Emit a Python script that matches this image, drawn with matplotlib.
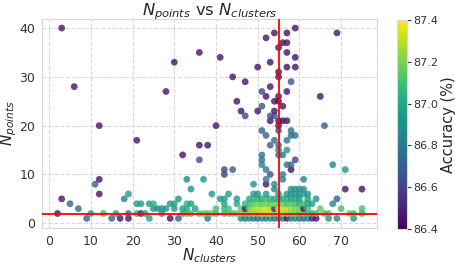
import matplotlib
matplotlib.use("Agg")
import matplotlib.pyplot as plt
import seaborn as sns
import numpy as np

# N_clusters, N_points, accuracy (%)
n_clusters = [
    # N_points = 1
    9, 15, 17, 19, 24, 29, 31, 38, 46, 47, 48, 49, 50, 51, 52, 53, 54, 55, 56, 57, 58, 59, 60, 61, 62, 63, 64, 67, 69, 73,
    # N_points = 2
    2, 10, 13, 16, 19, 21, 22, 23, 27, 32, 33, 34, 36, 37, 38, 39, 40, 42, 43, 44, 45, 46, 47, 48, 49, 50, 51, 52, 53, 54,
    55, 56, 57, 58, 59, 60, 61, 62, 63, 64, 66, 67, 72, 73, 75,
    # N_points = 3
    7, 25, 26, 27, 28, 30, 32, 33, 35, 40, 42, 43, 46, 47, 48, 49, 50, 51, 52, 53, 54, 55, 56, 57, 58, 59, 60, 61, 62, 65, 70, 75,
    # N_points = 4
    5, 21, 22, 24, 25, 29, 30, 33, 34, 42, 45, 47, 48, 49, 50, 51, 52, 53, 54, 55, 56, 57, 58, 59, 60, 61, 62, 63, 68,
    # N_points = 5
    3, 18, 31, 41, 42, 45, 48, 49, 50, 51, 52, 53, 54, 55, 56, 57, 58, 59, 60, 62, 64, 69,
    # N_points = 6
    12, 19, 39, 43, 49, 50, 52, 55, 57, 58, 59, 60, 61, 62,
    # N_points = 7
    34, 54, 58, 59, 60, 61, 71, 75,
    # N_points = 8 .. 40
    11, 49, 52, 54,
    12, 33, 37, 52, 56, 61,
    42, 53, 56,
    42, 44, 52, 58, 71,
    51, 57, 58, 68,
    36, 51, 59,
    32, 51, 55, 56,
    55, 57,
    36, 38, 53, 55,
    21, 54, 57,
    52, 58, 59,
    51, 55, 58,
    12, 40, 55, 66,
    53, 55, 56, 57,
    47, 53, 54,
    46, 50, 54,
    51, 56,
    45, 54, 55,
    52, 55, 65,
    28, 51, 57,
    6, 53,
    47, 58,
    44, 55,
    55,
    50, 57, 59,
    30, 53,
    41, 59,
    36, 57,
    55,
    56, 57,
    52,
    54, 57, 69,
    3, 59,
]

n_points = (
    [1] * 30 + [2] * 45 + [3] * 32 + [4] * 29 + [5] * 22 + [6] * 14 + [7] * 8
    + [8] * 4 + [9] * 6 + [10] * 3 + [11] * 5 + [12] * 4 + [13] * 3 + [14] * 4
    + [15] * 2 + [16] * 4 + [17] * 3 + [18] * 3 + [19] * 3 + [20] * 4 + [21] * 4
    + [22] * 3 + [23] * 3 + [24] * 2 + [25] * 3 + [26] * 3 + [27] * 3 + [28] * 2
    + [29] * 2 + [30] * 2 + [31] * 1 + [32] * 3 + [33] * 2 + [34] * 2 + [35] * 2
    + [36] * 1 + [37] * 2 + [38] * 1 + [39] * 3 + [40] * 2
)

accuracy = [
    # 1
    86.7, 86.7, 86.45, 86.45, 86.95, 86.45, 86.7, 86.8, 86.85, 86.8, 86.85, 86.8, 86.75, 86.85, 86.8, 86.85, 86.75,
    86.8, 86.85, 86.45, 86.8, 86.85, 86.8, 86.75, 86.85, 86.5, 86.45, 86.9, 86.85, 86.95,
    # 2
    86.45, 86.95, 87.05, 86.95, 86.75, 87.05, 86.45, 86.95, 86.85, 87.05, 87.1, 87.1, 87.1, 87.15, 87.1, 87.15, 87.1,
    87.1, 87.15, 87.1, 87.15, 87.2, 87.15, 87.2, 87.25, 87.2, 87.3, 87.25, 87.3, 87.2, 87.3, 87.25, 87.2, 87.15,
    87.2, 87.1, 87.15, 87.1, 87.05, 87.1, 87.1, 87.1, 87.15, 87.1, 87.05,
    # 3
    86.75, 86.9, 86.9, 86.9, 86.9, 86.95, 86.95, 87.0, 86.95, 87.1, 87.05, 87.1, 87.15, 86.45, 87.2, 87.25, 87.3,
    87.3, 87.35, 87.3, 86.5, 87.35, 87.3, 87.3, 87.25, 87.2, 87.2, 86.45, 87.1, 87.15, 87.1, 87.1,
    # 4
    86.7, 86.95, 86.95, 86.95, 87.05, 86.95, 86.95, 87.05, 86.95, 87.0, 87.0, 87.05, 87.1, 87.15, 87.2, 87.15, 87.2,
    87.15, 87.2, 87.15, 87.2, 87.1, 87.15, 87.1, 87.05, 87.1, 87.0, 86.95, 86.85,
    # 5
    86.45, 86.85, 86.9, 86.95, 86.95, 86.95, 87.0, 87.05, 87.05, 87.0, 87.1, 87.05, 87.0, 87.05, 87.0, 87.05, 86.95,
    87.0, 86.95, 86.95, 86.9, 86.7,
    # 6
    86.45, 86.95, 86.95, 86.95, 86.95, 86.9, 86.95, 86.9, 86.95, 86.9, 86.9, 86.9, 86.95, 86.9,
    # 7
    86.9, 86.85, 86.9, 86.9, 86.9, 86.9, 86.45, 86.45,
    # 8 .. 40
    86.7, 86.9, 86.45, 86.9,
    86.45, 86.85, 86.9, 86.8, 86.8, 86.85,
    86.6, 86.65, 86.85,
    86.6, 86.7, 86.8, 86.45, 86.9,
    86.8, 86.8, 86.75, 86.85,
    86.65, 86.8, 86.6,
    86.45, 86.8, 86.8, 86.8,
    86.85, 86.9,
    86.45, 86.45, 86.7, 86.75,
    86.45, 86.75, 86.8,
    86.7, 86.75, 86.75,
    86.7, 86.7, 86.75,
    86.45, 86.45, 86.45, 86.7,
    86.45, 86.45, 86.45, 86.45,
    86.6, 86.65, 86.65,
    86.45, 86.45, 86.45,
    86.65, 86.45,
    86.45, 86.45, 86.45,
    86.45, 86.45, 86.45,
    86.45, 86.6, 86.45,
    86.45, 86.45,
    86.45, 86.65,
    86.45, 86.45,
    86.45,
    86.45, 86.45, 86.45,
    86.45, 86.45,
    86.45, 86.45,
    86.45, 86.45,
    86.45,
    86.45, 86.45,
    86.45,
    86.45, 86.45, 86.45,
    86.45, 86.45,
]

best_clusters = 55
best_points = 2

sns.set_style("whitegrid", {"grid.linestyle": "--", "axes.edgecolor": ".85", "grid.color": ".85"})
plt.rcParams['font.family'] = ['DejaVu Sans']

fig = plt.figure(figsize=(4.55, 2.65), dpi=100)
ax = fig.add_axes([0.093, 0.14, 0.736, 0.79])
cax = fig.add_axes([0.873, 0.135, 0.022, 0.79])

sc = ax.scatter(n_clusters, n_points, c=accuracy, cmap="viridis", vmin=86.4, vmax=87.4,
                s=24, alpha=0.8, edgecolors="none", zorder=3)
ax.axvline(best_clusters, color="red", lw=1.3, zorder=4)
ax.axhline(best_points, color="red", lw=1.3, zorder=4)

ax.set_xticks([0, 10, 20, 30, 40, 50, 60, 70])
ax.set_yticks([0, 10, 20, 30, 40])
ax.tick_params(labelsize=9, colors="#333333", pad=1.5)
ax.set_xlabel("$N_{clusters}$", fontsize=11, labelpad=-1)
ax.set_ylabel("$N_{points}$", fontsize=11, labelpad=0)
ax.set_title("$N_{points}$ vs $N_{clusters}$", fontsize=11.8, pad=2)

cb = fig.colorbar(sc, cax=cax)
cb.solids.set_alpha(1)
cb.set_ticks([86.4, 86.6, 86.8, 87.0, 87.2, 87.4])
cb.ax.tick_params(labelsize=8, colors="#333333", length=3, pad=1)
cb.outline.set_edgecolor(".85")
cb.set_label("Accuracy (%)", fontsize=10.5, labelpad=2)

fig.savefig("out.png", dpi=100)
